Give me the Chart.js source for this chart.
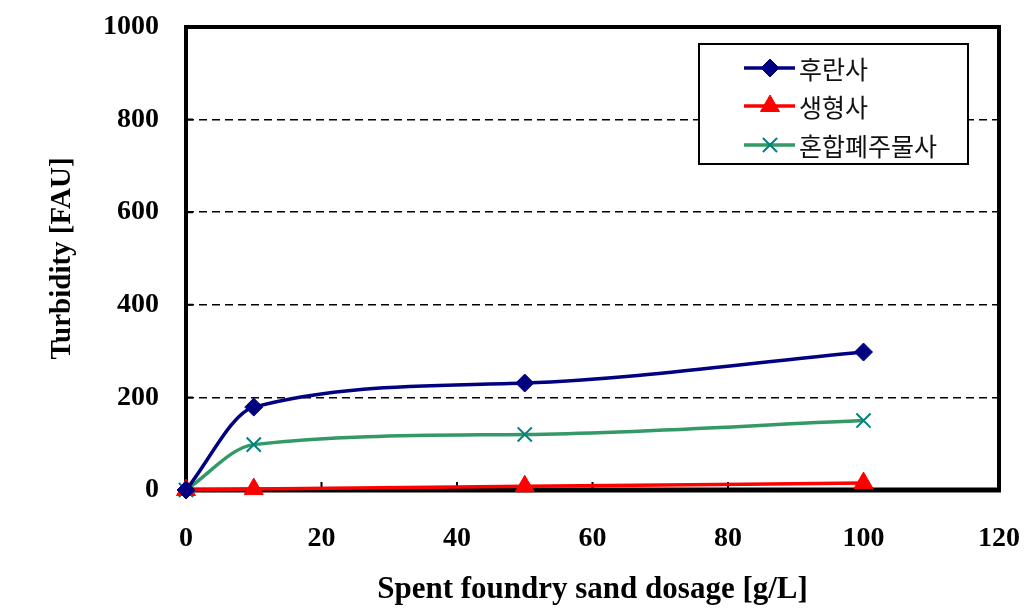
<!DOCTYPE html>
<html>
<head>
<meta charset="utf-8">
<script src="https://cdn.jsdelivr.net/npm/chart.js@4.4.1/dist/chart.umd.min.js"></script>
<style>
html,body{margin:0;padding:0;background:#fff;}
#wrap{width:1033px;height:612px;position:relative;}
</style>
</head>
<body>
<div id="wrap"><canvas id="c" width="1033" height="612"></canvas></div>
<script>
// ---- data ----
const dosage = [0, 10, 50, 100];
const seriesNames = ['후란사', '생형사', '혼합폐주물사'];
const furanSand = [0, 179, 231, 298];
const greenSand = [0, 2, 8, 15];
const mixedSand = [0, 98, 120, 150];
const xTicks = [0, 20, 40, 60, 80, 100, 120];
const yTicks = [0, 200, 400, 600, 800, 1000];
const xTitle = 'Spent foundry sand dosage [g/L]';
const yTitle = 'Turbidity [FAU]';

const toPts = (arr) => dosage.map((x, i) => ({x: x, y: arr[i]}));

const tickFont = {family: '"Liberation Serif", "Times New Roman", serif', size: 28, weight: 'bold'};

const frame = {
  id: 'frame',
  beforeDatasetsDraw(chart) {
    const {ctx, chartArea: a, scales} = chart;
    ctx.save();
    ctx.strokeStyle = '#000';
    ctx.lineWidth = 2;
    ctx.beginPath();
    yTicks.forEach(v => {
      const y = scales.y.getPixelForValue(v);
      ctx.moveTo(a.left, y); ctx.lineTo(a.left + 7, y);
    });
    xTicks.forEach(v => {
      const x = scales.x.getPixelForValue(v);
      ctx.moveTo(x, a.bottom); ctx.lineTo(x, a.bottom - 8);
    });
    ctx.stroke();
    ctx.lineWidth = 4;
    ctx.lineJoin = 'miter';
    ctx.strokeRect(a.left, a.top, a.right - a.left, a.bottom - a.top);
    ctx.lineWidth = 5;
    ctx.beginPath();
    ctx.moveTo(a.left - 2, a.bottom); ctx.lineTo(a.right + 2, a.bottom);
    ctx.stroke();
    ctx.restore();
  }
};

const legendBox = {
  id: 'legendBox',
  afterDraw(chart) {
    const ctx = chart.ctx;
    const bx = 699, by = 44, bw = 269, bh = 120;
    ctx.save();
    ctx.fillStyle = '#fff';
    ctx.fillRect(bx, by, bw, bh);
    ctx.lineWidth = 2;
    ctx.strokeStyle = '#000';
    ctx.strokeRect(bx, by, bw, bh);
    const rows = [68, 106, 145];
    chart.data.datasets.forEach((ds, i) => {
      const y = rows[i];
      ctx.lineWidth = ds.borderWidth;
      ctx.strokeStyle = ds.borderColor;
      ctx.beginPath();
      ctx.moveTo(744, y); ctx.lineTo(795, y);
      ctx.stroke();
      ctx.fillStyle = ds.pointBackgroundColor;
      ctx.strokeStyle = ds.pointBorderColor;
      ctx.lineWidth = ds.pointBorderWidth;
      Chart.helpers.drawPoint(ctx, {pointStyle: ds.pointStyle, radius: ds.pointRadius, borderWidth: ds.pointBorderWidth, rotation: 0}, 770, y);
      ctx.fillStyle = '#111';
      ctx.font = '25px "Noto Sans CJK KR", sans-serif';
      ctx.textBaseline = 'middle';
      ctx.textAlign = 'left';
      ctx.fillText(ds.label, 799, y + 1);
    });
    ctx.restore();
  }
};

new Chart(document.getElementById('c'), {
  type: 'line',
  data: {
    datasets: [
      {
        label: seriesNames[0], data: toPts(furanSand),
        borderColor: '#000080', borderWidth: 3.5, cubicInterpolationMode: 'monotone',
        pointStyle: 'rectRot', pointRadius: 9, pointBackgroundColor: '#000080',
        pointBorderColor: '#000080', pointBorderWidth: 1, clip: false
      },
      {
        label: seriesNames[1], data: toPts(greenSand),
        borderColor: '#FF0000', borderWidth: 3.5, cubicInterpolationMode: 'monotone',
        pointStyle: 'triangle', pointRadius: 11, pointBackgroundColor: '#FF0000',
        pointBorderColor: '#FF0000', pointBorderWidth: 1, clip: false
      },
      {
        label: seriesNames[2], data: toPts(mixedSand),
        borderColor: '#339966', borderWidth: 3.5, cubicInterpolationMode: 'monotone',
        pointStyle: 'crossRot', pointRadius: 10, pointBackgroundColor: '#008080',
        pointBorderColor: '#008080', pointBorderWidth: 2, clip: false
      }
    ]
  },
  options: {
    responsive: false,
    animation: false,
    layout: {padding: {top: 27, right: 34, left: 0, bottom: 0}},
    plugins: {legend: {display: false}, tooltip: {enabled: false}},
    scales: {
      x: {
        type: 'linear', min: 0, max: 120,
        afterBuildTicks: (s) => { s.ticks = xTicks.map(v => ({value: v})); },
        afterFit: (s) => { s.height = 122; s.paddingLeft = 0; s.paddingRight = 0; },
        grid: {display: false, drawTicks: false},
        border: {display: false},
        ticks: {font: tickFont, color: '#000', padding: 32, maxRotation: 0, autoSkip: false,
          callback: (v) => String(v)},
        title: {display: true, text: xTitle, color: '#000',
          font: {family: '"Liberation Serif", "Times New Roman", serif', size: 31, weight: 'bold'},
          padding: {top: 0, bottom: 3}}
      },
      y: {
        type: 'linear', min: 0, max: 1000,
        afterBuildTicks: (s) => { s.ticks = yTicks.map(v => ({value: v})); },
        afterFit: (s) => { s.width = 186; s.paddingTop = 0; s.paddingBottom = 0; },
        grid: {
          drawTicks: false, lineWidth: 1.5,
          color: (c) => (c.tick && c.tick.value > 0 && c.tick.value < 1000) ? '#000' : 'rgba(0,0,0,0)'
        },
        border: {display: false, dash: [8, 5]},
        ticks: {font: tickFont, color: '#000', padding: 27, callback: (v) => String(v)},
        title: {display: true, text: yTitle, color: '#000',
          font: {family: '"Liberation Serif", "Times New Roman", serif', size: 29, weight: 'bold'},
          padding: {top: 45, bottom: 0}}
      }
    }
  },
  plugins: [frame, legendBox]
});
</script>
</body>
</html>
